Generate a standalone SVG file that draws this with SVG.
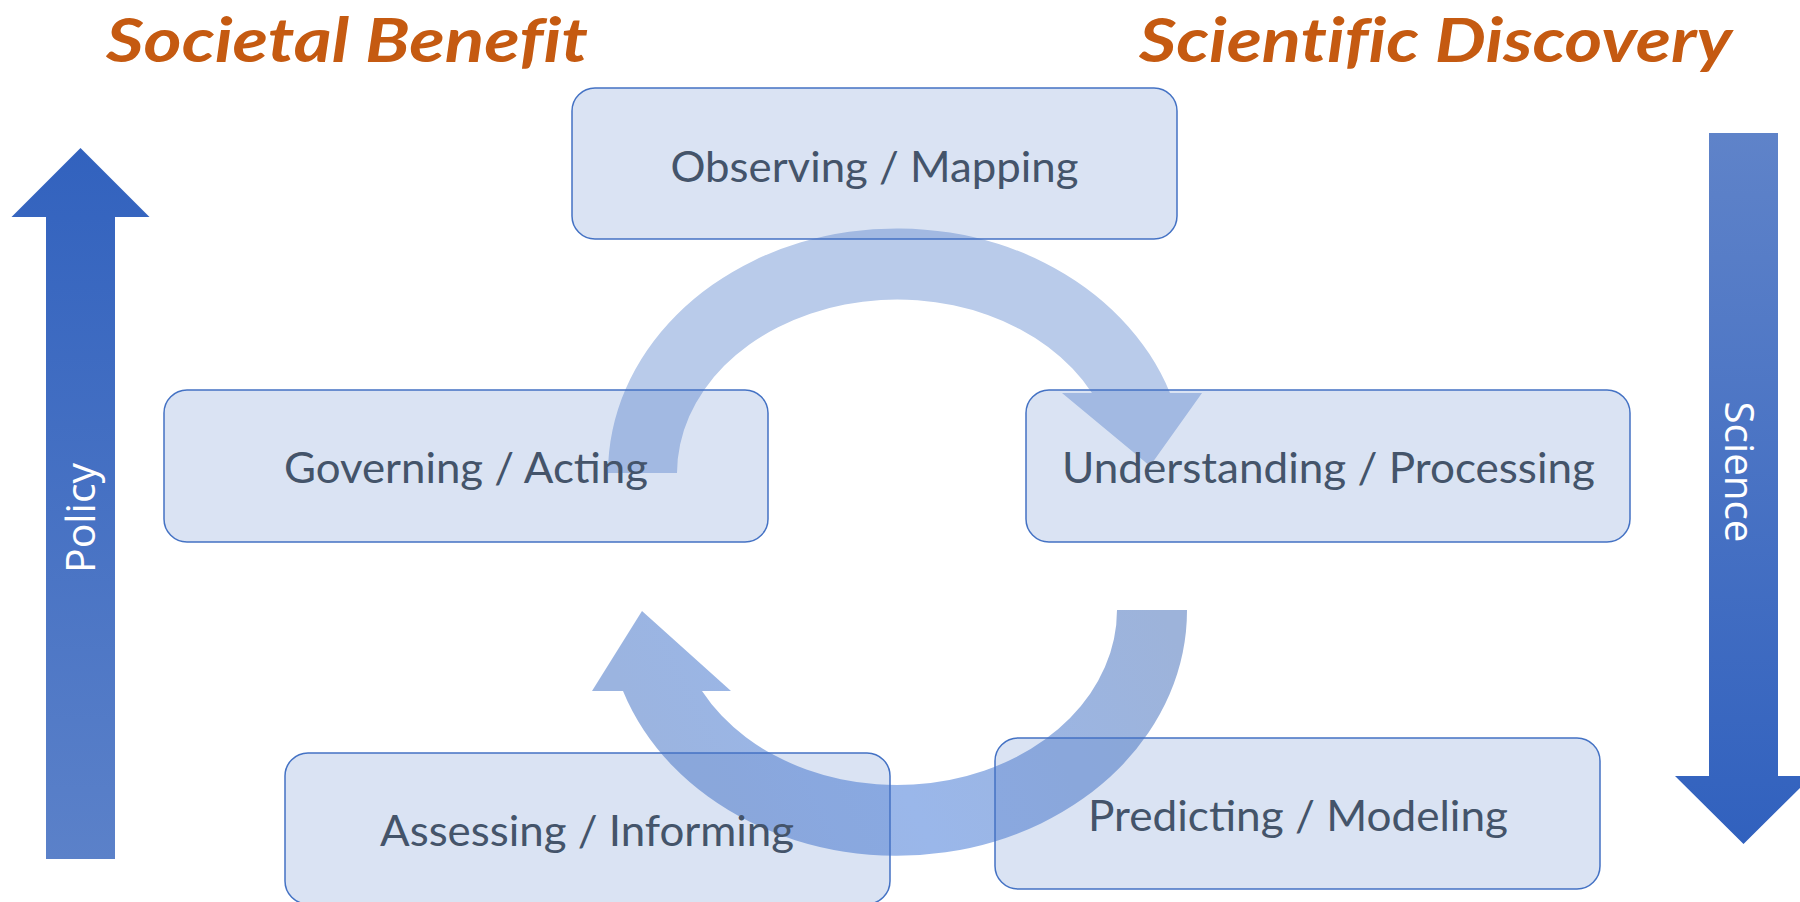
<svg xmlns="http://www.w3.org/2000/svg" width="1800" height="902" viewBox="0 0 1800 902">
  <style>
    .title { font-family: "Lato", "Liberation Sans", sans-serif; font-weight: bold; font-style: italic; font-size: 61px; fill: #c55a11; font-variant-ligatures: none; }
    .box { fill: #4472c4; fill-opacity: 0.2; stroke: #4472c4; stroke-width: 1.5; }
    .label { font-family: "Lato", "Liberation Sans", sans-serif; font-size: 43px; fill: #44546a; text-anchor: middle; }
    .side { font-family: "Open Sans", "DejaVu Sans", sans-serif; font-size: 40px; fill: #ffffff; text-anchor: middle; }
  </style>
  <defs>
    <linearGradient id="gUp" x1="0" y1="148" x2="0" y2="859" gradientUnits="userSpaceOnUse">
      <stop offset="0" stop-color="#3262be"/>
      <stop offset="1" stop-color="#5b81c9"/>
    </linearGradient>
    <linearGradient id="gDown" x1="0" y1="133" x2="0" y2="844" gradientUnits="userSpaceOnUse">
      <stop offset="0" stop-color="#5f83c9"/>
      <stop offset="1" stop-color="#3161be"/>
    </linearGradient>
    <linearGradient id="gBottomArc" x1="1160" y1="610" x2="700" y2="840" gradientUnits="userSpaceOnUse">
      <stop offset="0" stop-color="#9db3da"/>
      <stop offset="0.6" stop-color="#9ab7ea"/>
      <stop offset="1" stop-color="#9bb4e0"/>
    </linearGradient>
  </defs>

  <rect width="1800" height="902" fill="#ffffff"/>

  <g id="title-societal">
    <text class="title" x="106" y="62" textLength="482" lengthAdjust="spacingAndGlyphs">Societal Benefit</text>
  </g>
  <g id="title-scientific">
    <text class="title" x="1139" y="62" textLength="593" lengthAdjust="spacingAndGlyphs">Scientific Discovery</text>
  </g>

  <g id="policy-arrow">
    <polygon points="80.5,148 149.5,217 115,217 115,859 46,859 46,217 11.5,217" fill="url(#gUp)"/>
    <text class="side" transform="translate(95,518) rotate(-90)" textLength="110" lengthAdjust="spacingAndGlyphs">Policy</text>
  </g>
  <g id="science-arrow">
    <polygon points="1709,133 1778,133 1778,776 1812,776 1743.5,844 1675,776 1709,776" fill="url(#gDown)"/>
    <text class="side" transform="translate(1725,472) rotate(90)" textLength="141" lengthAdjust="spacingAndGlyphs">Science</text>
  </g>

  <g id="connectors">
    <path id="arc-top" d="M 608,473 A 289 245 0 0 1 1170,393 L 1202,393 L 1150,466 L 1062,393 L 1092,393 A 220 174 0 0 0 677,473 Z" fill="#b9cbea"/>
    <path id="arc-bottom" d="M 1187,610 A 290 245 0 0 1 623,691 L 592,691 L 642,611 L 731,691 L 702,691 A 220 175 0 0 0 1117,610 Z" fill="url(#gBottomArc)"/>
  </g>

  <g id="node-observing">
    <rect class="box" x="572" y="88" width="605" height="151" rx="23" ry="23"/>
    <text class="label" x="874.5" y="182" textLength="408" lengthAdjust="spacingAndGlyphs">Observing / Mapping</text>
  </g>
  <g id="node-governing">
    <rect class="box" x="164" y="390" width="604" height="152" rx="23" ry="23"/>
    <text class="label" x="466" y="483" textLength="364" lengthAdjust="spacingAndGlyphs">Governing / Acting</text>
  </g>
  <g id="node-understanding">
    <rect class="box" x="1026" y="390" width="604" height="152" rx="23" ry="23"/>
    <text class="label" x="1328.5" y="483" textLength="533" lengthAdjust="spacingAndGlyphs">Understanding / Processing</text>
  </g>
  <g id="node-predicting">
    <rect class="box" x="995" y="738" width="605" height="151" rx="23" ry="23"/>
    <text class="label" x="1298" y="831" textLength="420" lengthAdjust="spacingAndGlyphs">Predicting / Modeling</text>
  </g>
  <g id="node-assessing">
    <rect class="box" x="285" y="753" width="605" height="151" rx="23" ry="23"/>
    <text class="label" x="587" y="846" textLength="414" lengthAdjust="spacingAndGlyphs">Assessing / Informing</text>
  </g>
</svg>
